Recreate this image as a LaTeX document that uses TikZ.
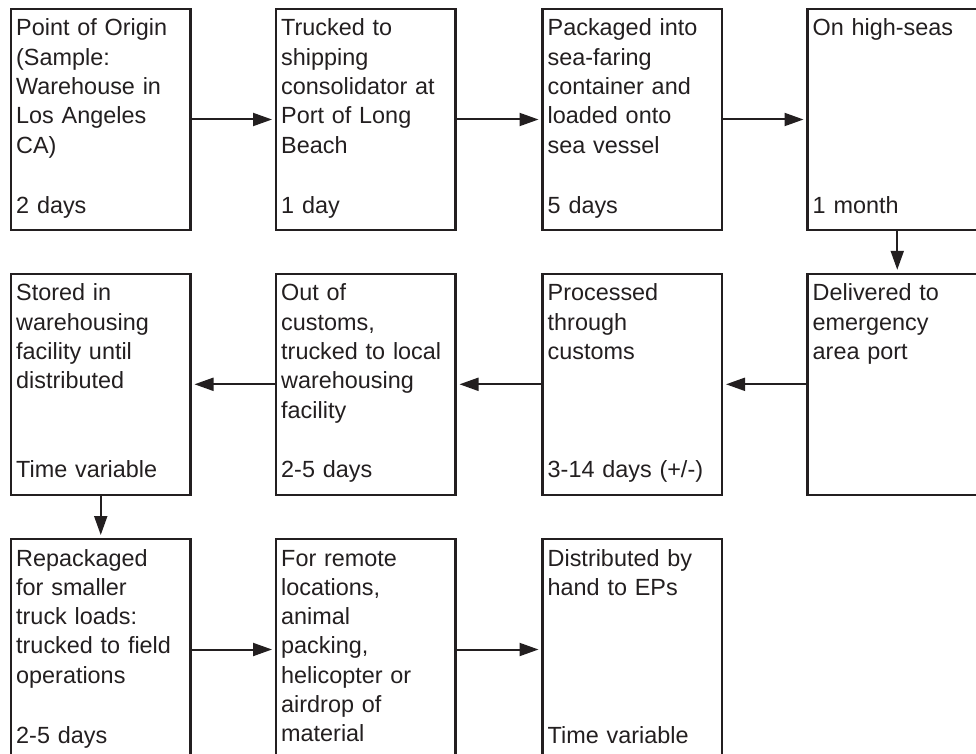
\documentclass[tikz,border=0pt]{standalone}
\usepackage{fontspec}
\setmainfont{Liberation Sans}
\usetikzlibrary{arrows.meta}
\definecolor{ink}{HTML}{231F20}
\newcommand{\descfont}{\fontsize{23.4pt}{29.3pt}\selectfont}
\tikzset{
  stepbox/.style={draw=ink, line width=2.6pt, minimum width=179.5pt,
    minimum height=221pt, inner sep=0pt, outer sep=0pt, anchor=north west},
  desc/.style={anchor=base west, inner sep=0pt, align=left, text width=178pt,
    font=\descfont, text=ink, xshift=5pt, yshift=-27pt},
  timelabel/.style={desc, yshift=-177pt},
  flow/.style={draw=ink, line width=2pt, -{Triangle[length=19pt,width=13pt]},
    shorten >=4pt}
}
\begin{document}
\begin{tikzpicture}[x=1pt,y=-1pt]
  \fill[white] (0,0) rectangle (976,754);
  \useasboundingbox (0,0) rectangle (976,754);

  % top row, left to right
  \node[stepbox] (b1) at (11,9) {};
  \node[stepbox] (b2) at (276,9) {};
  \node[stepbox] (b3) at (542.5,9) {};
  \node[stepbox] (b4) at (807.5,9) {};
  % middle row, right to left
  \node[stepbox] (b5) at (807.5,273.8) {};
  \node[stepbox] (b6) at (542.5,273.8) {};
  \node[stepbox] (b7) at (276,273.8) {};
  \node[stepbox] (b8) at (11,273.8) {};
  % bottom row, left to right
  \node[stepbox] (b9) at (11,539) {};
  \node[stepbox] (b10) at (276,539) {};
  \node[stepbox] (b11) at (542.5,539) {};

  % descriptions
  \node[desc] (d1) at (b1.north west) {Point of Origin\\(Sample:\\Warehouse in\\Los Angeles\\CA)};
  \node[timelabel] (t1) at (b1.north west) {2 days};
  \node[desc] (d2) at (b2.north west) {Trucked to\\shipping\\consolidator at\\Port of Long\\Beach};
  \node[timelabel] (t2) at (b2.north west) {1 day};
  \node[desc] (d3) at (b3.north west) {Packaged into\\sea-faring\\container and\\loaded onto\\sea vessel};
  \node[timelabel] (t3) at (b3.north west) {5 days};
  \node[desc] (d4) at (b4.north west) {On high-seas};
  \node[timelabel] (t4) at (b4.north west) {1 month};

  \node[desc] (d5) at (b5.north west) {Delivered to\\emergency\\area port};
  \node[desc] (d6) at (b6.north west) {Processed\\through\\customs};
  \node[timelabel] (t6) at (b6.north west) {3-14 days (+/-)};
  \node[desc] (d7) at (b7.north west) {Out of\\customs,\\trucked to local\\warehousing\\facility};
  \node[timelabel] (t7) at (b7.north west) {2-5 days};
  \node[desc] (d8) at (b8.north west) {Stored in\\warehousing\\facility until\\distributed};
  \node[timelabel] (t8) at (b8.north west) {Time variable};

  \node[desc] (d9) at (b9.north west) {Repackaged\\for smaller\\truck loads:\\trucked to field\\operations};
  \node[timelabel] (t9) at (b9.north west) {2-5 days};
  \node[desc] (d10) at (b10.north west) {For remote\\locations,\\animal\\packing,\\helicopter or\\airdrop of\\material};
  \node[desc] (d11) at (b11.north west) {Distributed by\\hand to EPs};
  \node[timelabel] (t11) at (b11.north west) {Time variable};

  % connectors
  \draw[flow] (b1.east) -- (b2.west);
  \draw[flow] (b2.east) -- (b3.west);
  \draw[flow] (b3.east) -- (b4.west);
  \draw[flow] (b4.south) -- (b5.north);
  \draw[flow] (b5.west) -- (b6.east);
  \draw[flow] (b6.west) -- (b7.east);
  \draw[flow] (b7.west) -- (b8.east);
  \draw[flow] (b8.south) -- (b9.north);
  \draw[flow] (b9.east) -- (b10.west);
  \draw[flow] (b10.east) -- (b11.west);
\end{tikzpicture}
\end{document}
